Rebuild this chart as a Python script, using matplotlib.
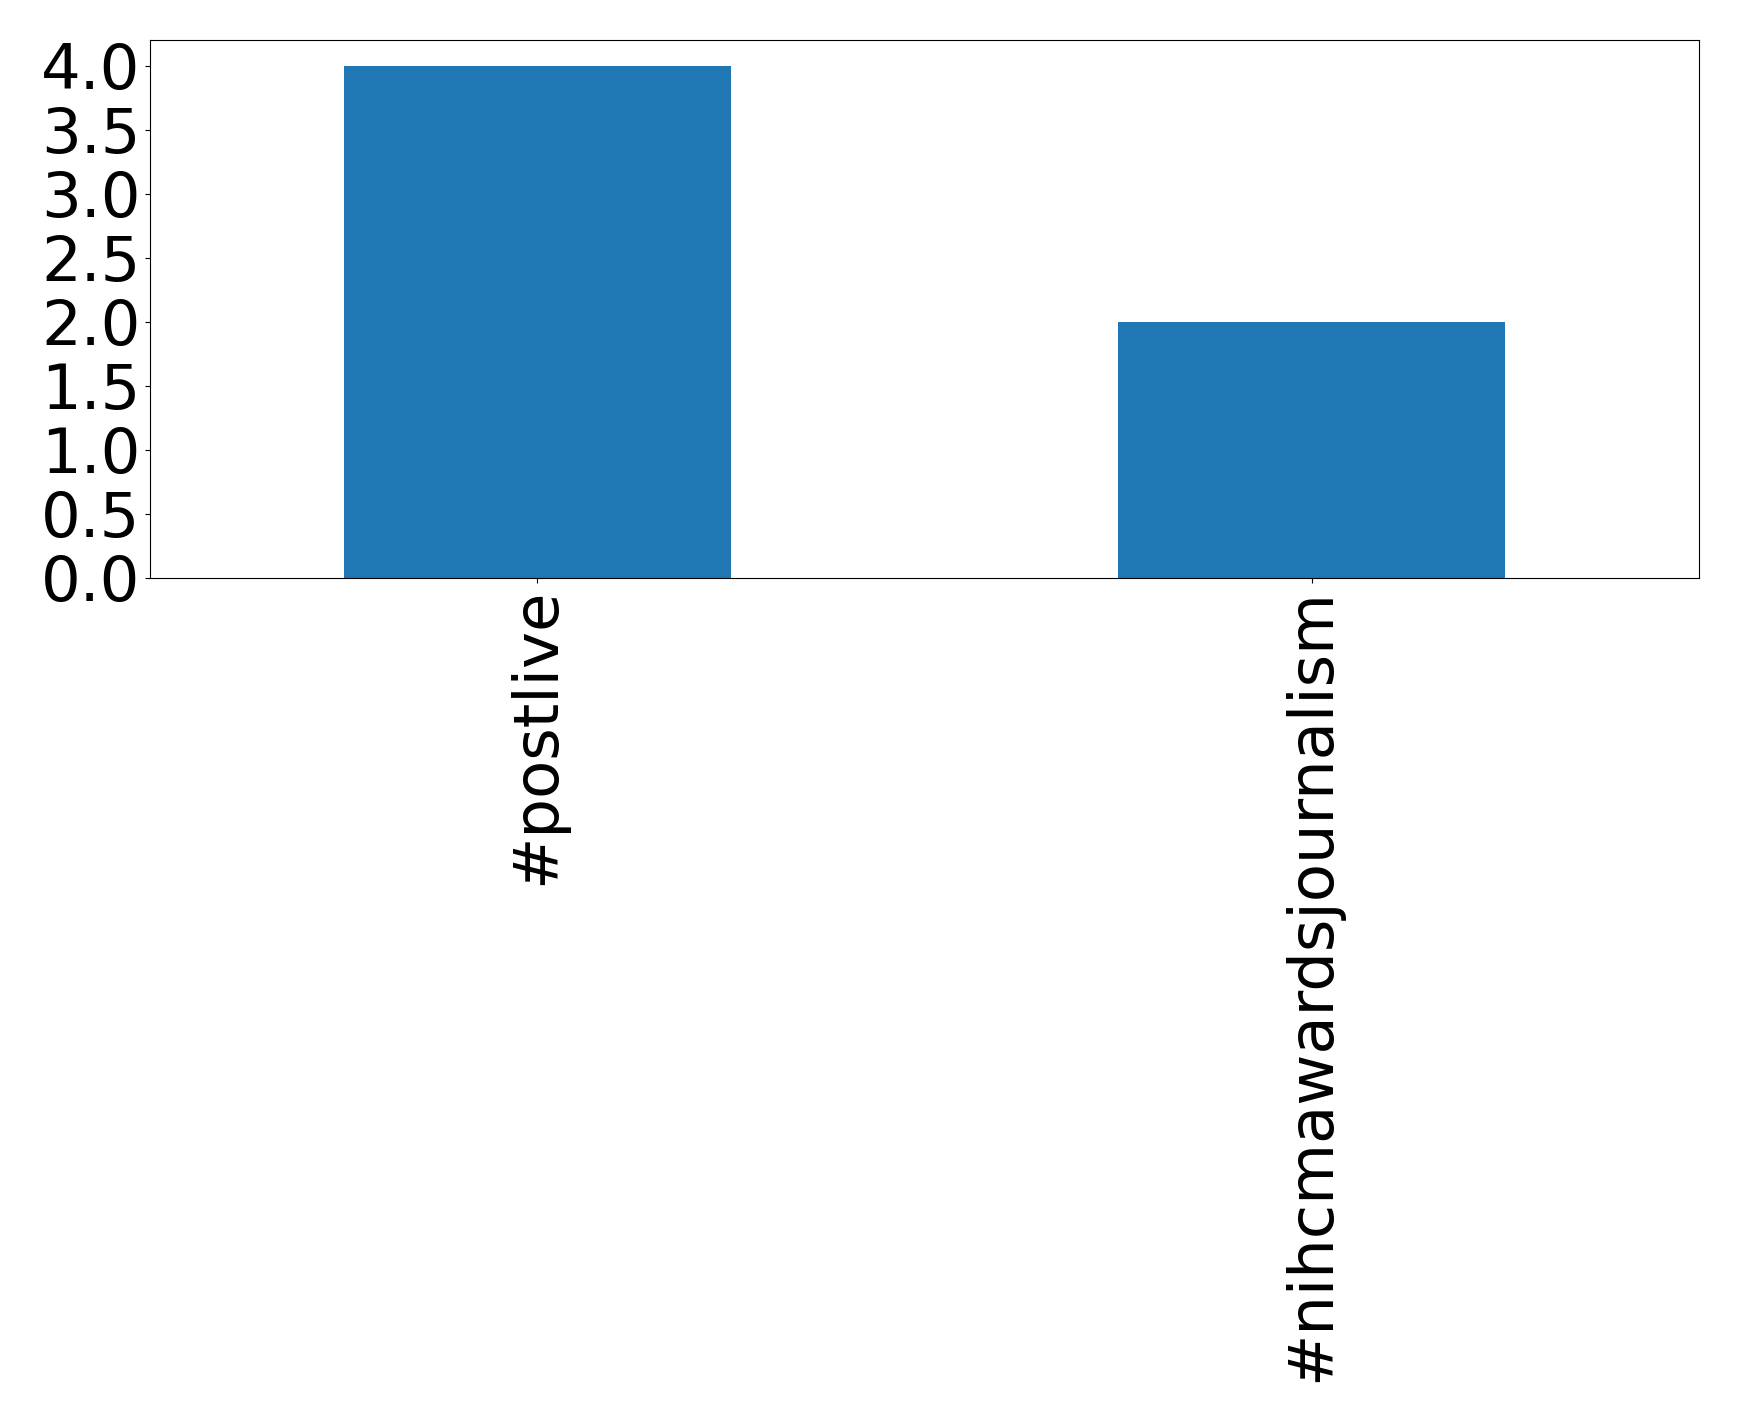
import matplotlib
matplotlib.use("Agg")
import matplotlib.pyplot as plt

categories = ["#postlive", "#nihcmawardsjournalism"]
counts = [4, 2]

fig = plt.figure(figsize=(17.39, 14.22), dpi=100)
left, right, top, bottom = 150, 1699, 40, 578
ax = fig.add_axes([left/1739, 1 - bottom/1422, (right-left)/1739, (bottom-top)/1422])
x = list(range(len(categories)))
ax.bar(x, counts, width=0.5, color="#1f77b4")
ax.set_xlim(-0.5, len(categories) - 0.5)
ax.set_xticks(x)
ax.set_xticklabels(categories, rotation=90, fontsize=45)
ax.tick_params(axis="y", labelsize=45)
ax.set_yticks([0, 0.5, 1.0, 1.5, 2.0, 2.5, 3.0, 3.5, 4.0])
ax.set_ylim(0, 4.2)
fig.savefig("out.png", dpi=100)
